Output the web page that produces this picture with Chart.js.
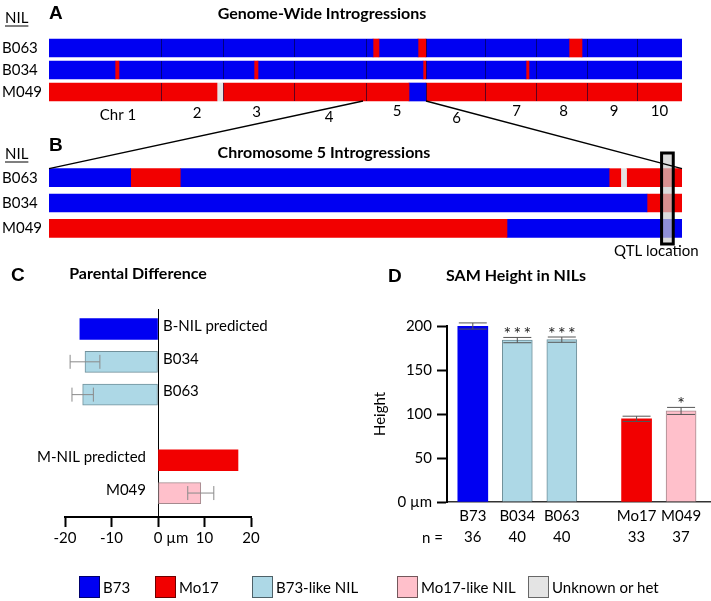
<!DOCTYPE html>
<html>
<head>
<meta charset="utf-8">
<script src="https://cdn.jsdelivr.net/npm/chart.js@4.4.1/dist/chart.umd.min.js"></script>
<style>
  body { margin: 0; background: #fff; }
  #page { position: relative; width: 711px; height: 601px; overflow: hidden; font-family: Lato, sans-serif; color: #000; }
  #page canvas { position: absolute; }
  .txt { position: absolute; white-space: nowrap; line-height: 1; transform: translateY(-50%); font-size: 15px; }
  .letter { font-family: 'Liberation Sans', Arial, sans-serif; font-weight: bold; font-size: 19px; }
  .ttl { font-weight: bold; font-size: 16px; }
  .nil { text-decoration: underline; text-underline-offset: 3px; }
  .sw { position: absolute; width: 19px; height: 20px; border: 1px solid rgba(0,0,0,0.55); }
</style>
</head>
<body>
<div id="page">
  <canvas id="mapA" width="711" height="100" style="left:0;top:25px"></canvas>
  <canvas id="mapB" width="711" height="120" style="left:0;top:140px"></canvas>
  <canvas id="diffC" width="360" height="270" style="left:0;top:290px"></canvas>
  <canvas id="heightD" width="351" height="270" style="left:360px;top:290px"></canvas>
  <canvas id="links" width="711" height="601" style="left:0;top:0;pointer-events:none"></canvas>
</div>
<script>
// ---- colours per genotype ----
const BLUE = '#0000f2', RED = '#f20000', LIGHT_BLUE = '#add8e6', PINK = '#ffc0cb', GREY = '#e4e4e4';
const typeFill = { 'B73': BLUE, 'Mo17': RED, 'B73-like NIL': LIGHT_BLUE, 'Mo17-like NIL': PINK, 'het': GREY };
const typeEdge = { 'B73': BLUE, 'Mo17': RED, 'B73-like NIL': '#71909a', 'Mo17-like NIL': '#a58a8e', 'het': '#777' };

// ---- A: genome-wide map (map units, chromosomes laid end to end) ----
const nilNames = ['B063', 'B034', 'M049'];
const nilBackground = ['B73', 'B73', 'Mo17'];
const chrNames = ['Chr 1', '2', '3', '4', '5', '6', '7', '8', '9', '10'];
const chrLengths = [112, 62, 71, 72, 60, 59, 51, 51, 50, 45];
const b063Genome = [[324, 330, 'Mo17'], [369, 377, 'Mo17'], [520, 533, 'Mo17']];
const b034Genome = [[66, 70, 'Mo17'], [205, 209, 'Mo17'], [374, 377, 'Mo17'], [477, 480, 'Mo17']];
const m049Genome = [[168, 174, 'het'], [360, 377, 'B73']];

// ---- B: chromosome 5 (Mb) ----
const chr5Length = 217;
const b063Chr5 = [[28, 45, 'Mo17'], [192, 196, 'Mo17'], [196, 198, 'het'], [198, 217, 'Mo17']];
const b034Chr5 = [[205, 217, 'Mo17']];
const m049Chr5 = [[157, 217, 'B73']];
const qtlRange = [210, 214];

// ---- C: parental difference (µm) ----
const diffLabels = ['B-NIL predicted', 'B034', 'B063', 'M-NIL predicted', 'M049'];
const diffValues = [-16.8, -15.7, -16.2, 17.2, 9.2];
const diffErrors = [null, 3.2, 2.3, null, 2.8];
const diffTypes = ['B73', 'B73-like NIL', 'B73-like NIL', 'Mo17', 'Mo17-like NIL'];
const diffGroup = [0, 0, 0, 1, 1];

// ---- D: SAM height (µm) ----
const heightLabels = ['B73', 'B034', 'B063', 'Mo17', 'M049'];
const heightValues = [200, 184, 184.5, 94.5, 103.5];
const heightErrors = [3.5, 3, 3, 3, 4];
const heightN = [36, 40, 40, 33, 37];
const heightSig = ['', '***', '***', '', '*'];
const heightTypes = ['B73', 'B73-like NIL', 'B73-like NIL', 'Mo17', 'Mo17-like NIL'];
const heightGroup = [0, 0, 0, 1, 1];

const legendTypes = ['B73', 'Mo17', 'B73-like NIL', 'Mo17-like NIL', 'het'];
const legendNames = ['B73', 'Mo17', 'B73-like NIL', 'Mo17-like NIL', 'Unknown or het'];

Chart.defaults.font.family = 'Lato';
Chart.defaults.font.size = 15;
Chart.defaults.color = '#000';

const page = document.getElementById('page');
function addText(str, x, y, cls, align) {
    const d = document.createElement('div');
    d.className = 'txt ' + (cls || '');
    d.textContent = str;
    d.style.top = y + 'px';
    d.style.left = x + 'px';
    if (align === 'center') d.style.transform = 'translate(-50%, -50%)';
    page.appendChild(d);
}

// fill the gaps between introgressions with the NIL background
function buildSegments(intros, background, length) {
    const segs = [];
    let pos = 0;
    intros.slice().sort((a, b) => a[0] - b[0]).forEach(([s, e, t]) => {
        if (s > pos) segs.push([pos, s, background]);
        segs.push([s, e, t]);
        pos = e;
    });
    if (pos < length) segs.push([pos, length, background]);
    return segs;
}

function mapDatasets(rows, length) {
    const sets = [];
    rows.forEach((intros, r) => {
        buildSegments(intros, nilBackground[r], length).forEach(([s, e, t]) => {
            sets.push({
                data: [{ y: nilNames[r], x: [s, e] }],
                backgroundColor: typeFill[t],
                borderWidth: 0,
                barThickness: 18,
                grouped: false
            });
        });
    });
    return sets;
}

function mapOptions(xMax, padding) {
    return {
        indexAxis: 'y',
        responsive: false,
        animation: false,
        layout: { padding: padding },
        plugins: { legend: { display: false }, tooltip: { enabled: false } },
        scales: {
            x: { type: 'linear', display: false, min: 0, max: xMax },
            y: {
                type: 'category',
                labels: nilNames,
                grid: { display: false },
                border: { display: false },
                ticks: { crossAlign: 'far', font: { size: 15 } },
                afterFit: (a) => { a.width = 47; }
            }
        }
    };
}

const chrStarts = chrLengths.map((l, i) => chrLengths.slice(0, i).reduce((a, b) => a + b, 0));
const genomeLength = chrLengths.reduce((a, b) => a + b, 0);
const chrLabelDx = [13, 5, -2, -1, 1, 1, 6, 2, 2, 0];
const chrLabelDy = [3, 1, 0, 5, -1, 6, -1, -1, -1, -1];

const chromosomePlugin = {
    id: 'chromosomes',
    afterDatasetsDraw(chart) {
        const { ctx, chartArea, scales: { x, y } } = chart;
        ctx.save();
        ctx.strokeStyle = 'rgba(0,0,50,0.6)';
        ctx.lineWidth = 1;
        chrStarts.slice(1).forEach(v => {
            const px = Math.round(x.getPixelForValue(v)) + 0.5;
            nilNames.forEach((n, i) => {
                const cy = y.getPixelForValue(i);
                ctx.beginPath();
                ctx.moveTo(px, cy - 9);
                ctx.lineTo(px, cy + 9);
                ctx.stroke();
            });
        });
        ctx.fillStyle = '#000';
        ctx.font = '15px Lato';
        ctx.textAlign = 'center';
        ctx.textBaseline = 'middle';
        chrNames.forEach((name, i) => {
            const mid = x.getPixelForValue(chrStarts[i] + chrLengths[i] / 2);
            ctx.fillText(name, mid + chrLabelDx[i], chartArea.bottom + 9 + chrLabelDy[i]);
        });
        ctx.restore();
    }
};

const qtlPlugin = {
    id: 'qtl',
    afterDatasetsDraw(chart) {
        const { ctx, chartArea, scales: { x } } = chart;
        const x0 = x.getPixelForValue(qtlRange[0]), x1 = x.getPixelForValue(qtlRange[1]);
        const top = chartArea.top - 12, bottom = chartArea.bottom + 3;
        ctx.save();
        ctx.fillStyle = 'rgba(205,205,205,0.7)';
        ctx.fillRect(x0, top, x1 - x0, bottom - top);
        ctx.lineWidth = 3;
        ctx.strokeStyle = '#000';
        ctx.strokeRect(x0, top, x1 - x0, bottom - top);
        ctx.fillStyle = '#000';
        ctx.font = '15px Lato';
        ctx.textAlign = 'center';
        ctx.textBaseline = 'middle';
        ctx.fillText('QTL location', (x0 + x1) / 2 - 11, bottom + 7);
        ctx.restore();
    }
};

const chartA = new Chart(document.getElementById('mapA'), {
    type: 'bar',
    data: { labels: nilNames, datasets: mapDatasets([b063Genome, b034Genome, m049Genome], genomeLength) },
    options: mapOptions(genomeLength, { left: 2, right: 29, top: 0, bottom: 22 }),
    plugins: [chromosomePlugin]
});

const chartB = new Chart(document.getElementById('mapB'), {
    type: 'bar',
    data: { labels: nilNames, datasets: mapDatasets([b063Chr5, b034Chr5, m049Chr5], chr5Length) },
    options: mapOptions(chr5Length, { left: 2, right: 29, top: 25, bottom: 19 }),
    plugins: [qtlPlugin]
});

// lines zooming from chromosome 5 in A to the map in B
(function drawLinks() {
    const ctx = document.getElementById('links').getContext('2d');
    const ax = chartA.scales.x, ay = chartA.scales.y;
    const bx = chartB.scales.x, by = chartB.scales.y;
    const aTop = 25, bTop = 140;
    const fromY = aTop + ay.getPixelForValue(2) + 9;
    const toY = bTop + by.getPixelForValue(0) - 9;
    ctx.strokeStyle = '#000';
    ctx.lineWidth = 1.3;
    ctx.beginPath();
    ctx.moveTo(ax.getPixelForValue(chrStarts[4]) - 3, fromY);
    ctx.lineTo(bx.getPixelForValue(0), toY);
    ctx.moveTo(ax.getPixelForValue(chrStarts[5]), fromY);
    ctx.lineTo(bx.getPixelForValue(chr5Length), toY);
    ctx.stroke();
})();

// ---- C ----
const diffPos = diffValues.map((v, i) => i + diffGroup[i]);

const diffPlugin = {
    id: 'diffExtras',
    afterDatasetsDraw(chart) {
        const { ctx, scales: { x, y } } = chart;
        const zero = x.getPixelForValue(0);
        ctx.save();
        ctx.strokeStyle = '#8a8a8a';
        ctx.lineWidth = 1;
        diffValues.forEach((v, i) => {
            const cy = y.getPixelForValue(diffPos[i]);
            if (diffErrors[i] != null) {
                const l = x.getPixelForValue(v - diffErrors[i]), r = x.getPixelForValue(v + diffErrors[i]);
                ctx.beginPath();
                ctx.moveTo(l, cy); ctx.lineTo(r, cy);
                ctx.moveTo(l, cy - 7); ctx.lineTo(l, cy + 7);
                ctx.moveTo(r, cy - 7); ctx.lineTo(r, cy + 7);
                ctx.stroke();
            }
        });
        ctx.fillStyle = '#000';
        ctx.font = '15px Lato';
        ctx.textBaseline = 'middle';
        diffValues.forEach((v, i) => {
            const cy = y.getPixelForValue(diffPos[i]) - 3;
            if (v < 0) {
                ctx.textAlign = 'left';
                ctx.fillText(diffLabels[i], zero + 5, cy);
            } else {
                ctx.textAlign = 'right';
                ctx.fillText(diffLabels[i], zero - 12, cy);
            }
        });
        ctx.restore();
    },
    afterDraw(chart) {
        // unit after the zero tick label
        const { ctx, chartArea, scales: { x } } = chart;
        ctx.save();
        ctx.font = '15px Lato';
        ctx.fillStyle = '#000';
        ctx.textAlign = 'left';
        ctx.textBaseline = 'middle';
        const w = ctx.measureText('0').width;
        ctx.fillText(' µm', x.getPixelForValue(0) + w / 2, chartArea.bottom + 21);
        ctx.restore();
    }
};

new Chart(document.getElementById('diffC'), {
    type: 'bar',
    data: {
        datasets: [{
            data: diffValues.map((v, i) => ({ x: v, y: diffPos[i] })),
            backgroundColor: diffTypes.map(t => typeFill[t]),
            borderColor: diffTypes.map(t => typeEdge[t]),
            borderWidth: diffTypes.map(t => (t === 'B73' || t === 'Mo17') ? 0 : 1),
            borderSkipped: false,
            barThickness: 21
        }]
    },
    options: {
        indexAxis: 'y',
        responsive: false,
        animation: false,
        layout: { padding: { left: 65, right: 109, top: 19, bottom: 0 } },
        plugins: { legend: { display: false }, tooltip: { enabled: false } },
        scales: {
            x: {
                type: 'linear', min: -20, max: 20,
                ticks: { stepSize: 10, padding: 2, font: { size: 15 } },
                grid: {
                    color: (c) => (c.tick && c.tick.value === 0) ? '#000' : 'rgba(0,0,0,0)',
                    tickColor: '#000', tickLength: 10, tickWidth: 2, lineWidth: 1
                },
                border: { color: '#000', width: 2 },
                afterFit: (a) => { a.height = 43; }
            },
            y: { type: 'linear', display: false, offset: false, reverse: true, min: -0.61, max: 5.73 }
        }
    },
    plugins: [diffPlugin]
});

// ---- D ----
const groupGap = 0.68;
const heightPos = heightValues.map((v, i) => i + heightGroup[i] * groupGap);

const heightPlugin = {
    id: 'heightExtras',
    afterDatasetsDraw(chart) {
        const { ctx, scales: { x, y } } = chart;
        ctx.save();
        ctx.strokeStyle = '#555';
        ctx.lineWidth = 1;
        heightValues.forEach((v, i) => {
            const cx = x.getPixelForValue(heightPos[i]);
            const t = y.getPixelForValue(v + heightErrors[i]);
            const b = y.getPixelForValue(v - heightErrors[i]);
            ctx.beginPath();
            ctx.moveTo(cx, t); ctx.lineTo(cx, b);
            ctx.moveTo(cx - 14, t); ctx.lineTo(cx + 14, t);
            ctx.moveTo(cx - 14, b); ctx.lineTo(cx + 14, b);
            ctx.stroke();
            if (heightSig[i]) {
                ctx.fillStyle = '#222';
                ctx.font = '18px Lato';
                ctx.textAlign = 'center';
                ctx.textBaseline = 'alphabetic';
                ctx.fillText(heightSig[i].split('').join('\u2009'), cx, t + 3);
            }
        });
        ctx.restore();
    }
};

new Chart(document.getElementById('heightD'), {
    type: 'bar',
    data: {
        datasets: [{
            data: heightValues.map((v, i) => ({ x: heightPos[i], y: v })),
            backgroundColor: heightTypes.map(t => typeFill[t]),
            borderColor: heightTypes.map(t => typeEdge[t]),
            borderWidth: heightTypes.map(t => (t === 'B73' || t === 'Mo17') ? 0 : 1),
            borderSkipped: 'bottom',
            barThickness: 30
        }]
    },
    options: {
        responsive: false,
        animation: false,
        layout: { padding: { left: 6, right: 1, top: 36, bottom: 0 } },
        plugins: { legend: { display: false }, tooltip: { enabled: false } },
        scales: {
            x: {
                type: 'linear', offset: false, min: -0.58, max: 5.33,
                afterBuildTicks: (a) => { a.ticks = heightPos.map(v => ({ value: v })); },
                ticks: {
                    autoSkip: false, maxRotation: 0, padding: 4,
                    font: { size: 15, lineHeight: 1.4 },
                    callback: (v, i) => [heightLabels[i], String(heightN[i])]
                },
                grid: { display: false, drawTicks: false },
                border: { color: '#333', width: 1.5 },
                afterFit: (a) => { a.height = 58; a.paddingLeft = 0; a.paddingRight = 0; }
            },
            y: {
                min: 0, max: 200,
                ticks: { stepSize: 50, padding: 5, font: { size: 15 }, callback: (v) => v === 0 ? '0 µm' : v },
                grid: { drawOnChartArea: false, tickLength: 10, tickWidth: 2, tickColor: '#000' },
                border: { color: '#000', width: 2 },
                title: { display: true, text: 'Height', font: { size: 15 }, padding: { top: 5, bottom: 0 } },
                afterFit: (a) => { a.width = 81; }
            }
        }
    },
    plugins: [heightPlugin]
});

// ---- text and legend ----
addText('NIL', 5, 17, 'nil');
addText('A', 49, 12, 'letter');
addText('Genome-Wide Introgressions', 322, 13, 'ttl', 'center');
addText('NIL', 5, 153, 'nil');
addText('B', 49, 144, 'letter');
addText('Chromosome 5 Introgressions', 324, 152, 'ttl', 'center');
addText('C', 11, 274, 'letter');
addText('Parental Difference', 138, 273, 'ttl', 'center');
addText('D', 388, 275, 'letter');
addText('SAM Height in NILs', 516, 275, 'ttl', 'center');
addText('n =', 422, 537);

const legendX = [79, 155, 252, 397, 528];
legendTypes.forEach((t, i) => {
    const sw = document.createElement('div');
    sw.className = 'sw';
    sw.style.left = legendX[i] + 'px';
    sw.style.top = '576px';
    sw.style.background = typeFill[t];
    page.appendChild(sw);
    addText(legendNames[i], legendX[i] + 24, 587);
});
</script>
</body>
</html>
